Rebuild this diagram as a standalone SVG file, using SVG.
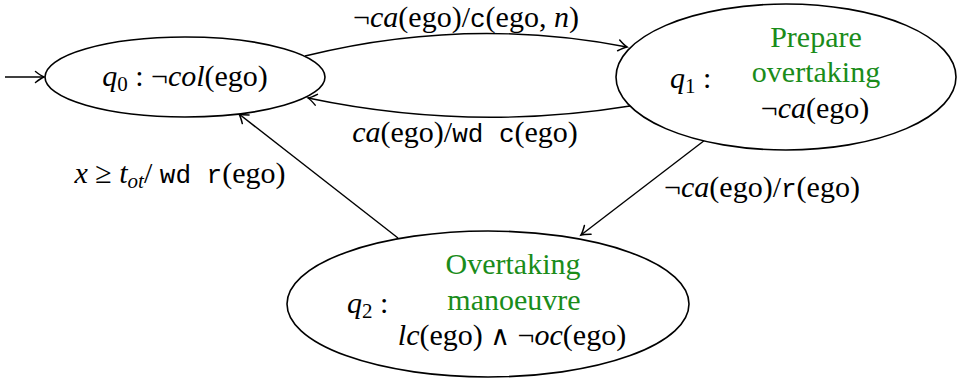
<svg xmlns="http://www.w3.org/2000/svg" width="958" height="378" viewBox="0 0 958 378">
<style>
  .n { fill: #fff; stroke: #000; stroke-width: 1.6; }
  .e { fill: none; stroke: #000; stroke-width: 1.4; marker-end: url(#arr); }
  text { font-family: "Liberation Serif", "Times New Roman", serif; font-size: 30px; fill: #000; }
  .i { font-style: italic; }
  .tt { font-family: "Liberation Mono", "Courier New", monospace; font-size: 26px; }
  .sub { font-size: 21px; }
  .op { font-family: "DejaVu Serif", serif; font-size: 27px; }
  .g { fill: #1a8c1a; }
</style>
<defs>
  <marker id="arr" markerUnits="userSpaceOnUse" markerWidth="16" markerHeight="16" viewBox="-10 -8 12 16" refX="0" refY="0" orient="auto">
    <path d="M -8.5 -5.5 Q -3 -1.2 0 0 Q -3 1.2 -8.5 5.5" fill="none" stroke="#000" stroke-width="1.5" stroke-linecap="round"/>
  </marker>
</defs>
<g id="edges">
  <path class="e" d="M 5 77 L 44 77"/>
  <path class="e" d="M 305 56 Q 467 16 627 47"/>
  <path class="e" d="M 630 106 Q 470 132 308 98"/>
  <path class="e" d="M 705 140 L 581 235"/>
  <path class="e" d="M 398 238 L 239 114"/>
  <text x="466" y="27" font-size="29" text-anchor="middle">¬<tspan class="i">ca</tspan>(ego)/<tspan class="tt">c</tspan>(ego, <tspan class="i">n</tspan>)</text>
  <text x="465" y="142" text-anchor="middle"><tspan class="i">ca</tspan>(ego)/<tspan class="tt">wd c</tspan>(ego)</text>
  <text x="180" y="183" text-anchor="middle"><tspan class="i">x</tspan> ≥ <tspan class="i">t</tspan><tspan class="i sub" dy="5">ot</tspan><tspan dy="-5">/ </tspan><tspan class="tt">wd r</tspan>(ego)</text>
  <text x="762" y="197" text-anchor="middle">¬<tspan class="i">ca</tspan>(ego)/<tspan class="tt">r</tspan>(ego)</text>
</g>
<g id="q0">
  <ellipse class="n" cx="185" cy="77" rx="140" ry="40"/>
  <text x="185" y="86" text-anchor="middle"><tspan class="i">q</tspan><tspan class="sub" dy="5">0</tspan><tspan dy="-5"> : ¬</tspan><tspan class="i">col</tspan>(ego)</text>
</g>
<g id="q1">
  <ellipse class="n" cx="786" cy="77" rx="170" ry="73"/>
  <text x="670" y="88"><tspan class="i">q</tspan><tspan class="sub" dy="5">1</tspan><tspan dy="-5"> :</tspan></text>
  <text class="g" x="816" y="47" text-anchor="middle">Prepare</text>
  <text class="g" x="816" y="82" text-anchor="middle">overtaking</text>
  <text x="815" y="118" text-anchor="middle">¬<tspan class="i">ca</tspan>(ego)</text>
</g>
<g id="q2">
  <ellipse class="n" cx="488" cy="304" rx="201" ry="73"/>
  <text x="347" y="313"><tspan class="i">q</tspan><tspan class="sub" dy="5">2</tspan><tspan dy="-5"> :</tspan></text>
  <text class="g" x="513" y="274" text-anchor="middle">Overtaking</text>
  <text class="g" x="514" y="310" text-anchor="middle">manoeuvre</text>
  <text x="512" y="345" text-anchor="middle"><tspan class="i">lc</tspan>(ego) <tspan class="op">∧</tspan> ¬<tspan class="i">oc</tspan>(ego)</text>
</g>
</svg>
